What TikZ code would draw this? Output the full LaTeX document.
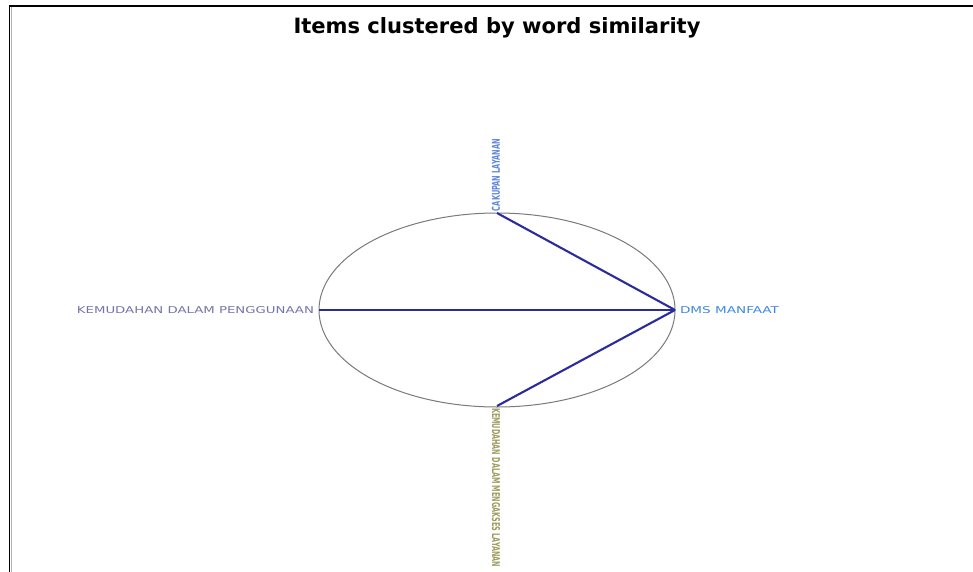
\documentclass[tikz,border=0pt]{standalone}
\usepackage{fontspec}
\usepackage{graphicx}
\setmainfont{DejaVu Sans}
\newfontfamily\lblfont{DejaVu Sans}
\definecolor{edgeblue}{HTML}{2B2B9C}
\definecolor{ringgray}{HTML}{7A7A7A}
\definecolor{topblue}{HTML}{5F86D8}
\definecolor{leftpurple}{HTML}{7474AC}
\definecolor{rightblue}{HTML}{3C8ADA}
\definecolor{botolive}{HTML}{9C9C5E}
\newcommand{\fitlabel}[3]{\resizebox{#1}{#2}{\lblfont #3}}
\begin{document}
\begin{tikzpicture}[x=1pt,y=-1pt,
  lbl/.style={inner sep=0pt, outer sep=0pt},
  link/.style={draw=edgeblue, line width=2.1pt},
  ring/.style={draw=ringgray, line width=1pt}]
\useasboundingbox (0,0) rectangle (973,572);
\fill[white] (0,0) rectangle (973,572);
% frame
\draw[black, line width=1.4pt] (9.5,572) -- (9.5,6) -- (973,6);
\draw[gray!60, line width=0.8pt] (11,7) -- (11,572);
% title
\node[lbl] (title) at (497,28) {\resizebox{407pt}{!}{\bfseries Items clustered by word similarity}};
% ellipse
\draw[ring] (497,310) ellipse [x radius=178, y radius=97];
\coordinate (ntop) at (497,213);
\coordinate (nbot) at (497,406);
\coordinate (nleft) at (319,310);
\coordinate (nright) at (675,310);
% links
\draw[link] (ntop) -- (nright);
\draw[link] (nleft) -- (nright);
\draw[link] (nbot) -- (nright);
% labels
\node[lbl, anchor=east, text=leftpurple] (lleft) at (314,310) {\fitlabel{237pt}{7pt}{KEMUDAHAN DALAM PENGGUNAAN}};
\node[lbl, anchor=west, text=rightblue] (lright) at (680,310) {\fitlabel{99pt}{7pt}{DMS MANFAAT}};
\node[lbl, anchor=west, rotate=90, text=topblue] (ltop) at (496,211) {\fitlabel{72pt}{8pt}{\bfseries CAKUPAN LAYANAN}};
\node[lbl, anchor=west, rotate=-90, text=botolive] (lbot) at (496,408) {\fitlabel{159pt}{8pt}{\bfseries KEMUDAHAN DALAM MENGAKSES LAYANAN}};
\end{tikzpicture}
\end{document}
